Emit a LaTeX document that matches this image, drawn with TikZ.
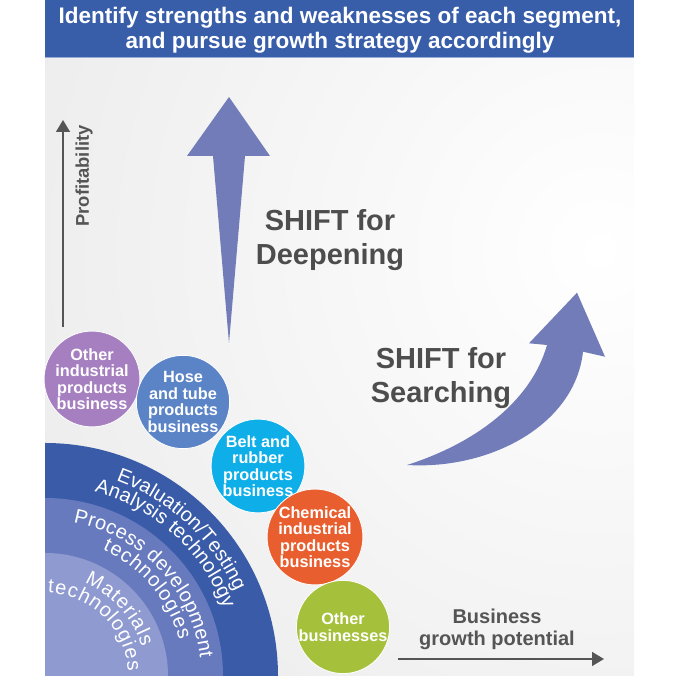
\documentclass[tikz,border=0pt]{standalone}
\usepackage{fontspec}
\setmainfont{Liberation Sans}
\usetikzlibrary{arrows.meta,decorations.text,calc}
\definecolor{banner}{RGB}{56,94,170}
\definecolor{bannerline}{RGB}{150,172,214}
\definecolor{bgGray}{RGB}{222,222,224}
\definecolor{arcOuter}{RGB}{58,92,168}
\definecolor{arcMid}{RGB}{104,122,190}
\definecolor{arcInner}{RGB}{142,154,208}
\definecolor{cPurple}{RGB}{165,127,191}
\definecolor{cHose}{RGB}{91,132,199}
\definecolor{cBelt}{RGB}{14,174,232}
\definecolor{cChem}{RGB}{233,94,46}
\definecolor{cGreen}{RGB}{165,193,60}
\definecolor{shiftArrow}{RGB}{113,124,185}
\definecolor{darkText}{RGB}{77,77,77}
\definecolor{axisGray}{RGB}{85,85,85}
\newcommand\arcline[4]{%
  \path[decorate,decoration={text along path,text align={fit to path},text color=white,
    text={|\fontsize{20}{20}\selectfont|#4}}]
    ($(C)+(#2:#1)$) arc[start angle=#2,end angle=#3,radius=#1];}
\begin{document}
\begin{tikzpicture}[x=1pt,y=1pt,
  bub/.style={circle,draw=white,line width=0.8pt,minimum size=#1,inner sep=0pt,
    text=white,font=\fontsize{16.3}{16.5}\selectfont\bfseries,align=center},
  shifttext/.style={text=darkText,font=\fontsize{29}{34}\selectfont\bfseries,align=center},
  axislabel/.style={text=axisGray,font=\fontsize{20}{22}\selectfont\bfseries,align=center},
  axisarrow/.style={draw=axisGray,line width=1.5pt,-{Triangle[length=12pt,width=14pt]}}]
\useasboundingbox (0,0) rectangle (680,676);
% background
\begin{scope}
  \clip (45,0) rectangle (634,618);
  \fill[bgGray] (45,0) rectangle (634,618);
  \shade[inner color=white,outer color=bgGray] (600,426) circle (1100);
\end{scope}
% banner
\fill[banner] (45,619) rectangle (634,676);
\draw[bannerline,line width=1.2pt] (45,618.6) -- (634,618.6);
\node[text=white,font=\fontsize{22.5}{25}\selectfont\bfseries,align=center] (title) at (340,646)
  {Identify strengths and weaknesses of each segment,\\and pursue growth strategy accordingly};
% arcs
\coordinate (C) at (45,0);
\fill[arcOuter] (C) -- ++(0,233) arc[start angle=90,end angle=0,radius=233] -- cycle;
\fill[arcMid] (C) -- ++(0,178) arc[start angle=90,end angle=0,radius=178] -- cycle;
\fill[arcInner] (C) -- ++(0,123) arc[start angle=90,end angle=0,radius=123] -- cycle;
\arcline{208}{70}{24}{Evaluation/Testing}
\arcline{191}{75}{20.5}{Analysis technology}
\arcline{156}{79.5}{6.5}{Process development}
\arcline{139}{65.5}{15}{technologies}
\arcline{101}{67}{17}{Materials}
\arcline{83}{88}{3}{technologies}
% circles
\node[bub=90pt,fill=cPurple] (other) at (92,297) {Other\\industrial\\products\\business};
\node[bub=92pt,fill=cHose] (hose) at (183,274) {Hose\\and tube\\products\\business};
\node[bub=92pt,fill=cBelt] (belt) at (258,210) {Belt and\\rubber\\products\\business};
\node[bub=94pt,fill=cChem] (chem) at (315,139) {Chemical\\industrial\\products\\business};
\node[bub=92pt,fill=cGreen] (otherbiz) at (343,49) {Other\\businesses};
% shift arrows
\fill[shiftArrow] (229,333) -- (213,520) -- (187,520) -- (229,579) -- (270,520) -- (245,520) -- cycle;
\fill[shiftArrow] (407,211) .. controls (470,231) and (530,271) .. (547,331)
  -- (529,332.7) -- (577,383.3) -- (605,319.3) -- (583,324.3)
  .. controls (575,251) and (490,206) .. (407,211) -- cycle;
\node[shifttext] (deep) at (330,436) {SHIFT for\\Deepening};
\node[shifttext] (search) at (441,298) {SHIFT for\\Searching};
% axes
\coordinate (pstart) at (63,349);
\coordinate (pend) at (63,556);
\draw[axisarrow] (pstart) -- (pend);
\node[axislabel,rotate=90,font=\fontsize{18.4}{20}\selectfont\bfseries] (profit) at (84,500) {Profitability};
\coordinate (bstart) at (398,17);
\coordinate (bend) at (604,17);
\draw[axisarrow] (bstart) -- (bend);
\node[axislabel] (growth) at (497,47) {Business\\growth potential};
\end{tikzpicture}
\end{document}
